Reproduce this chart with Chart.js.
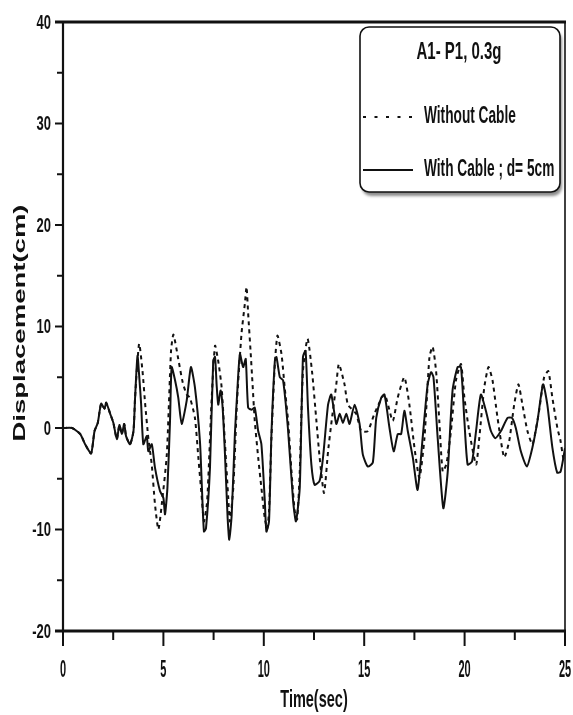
<!DOCTYPE html>
<html>
<head>
<meta charset="utf-8">
<script src="https://cdn.jsdelivr.net/npm/chart.js@4/dist/chart.umd.min.js"></script>
<style>
  html, body { margin: 0; padding: 0; background: #fff; }
  #wrap { width: 573px; height: 715px; position: relative; }
</style>
</head>
<body>
<div id="wrap"><canvas id="chart"></canvas></div>
<script>
// Response history, pier A1-P1 under 0.3g excitation
const legendTitle = 'A1- P1, 0.3g';
const seriesNames = ['Without Cable', 'With Cable ; d= 5cm'];

// Without cable (dashed)
const timeWithout = [0, 0.45, 0.86, 1.1, 1.4, 1.57, 1.73, 1.9, 2.07, 2.15, 2.35, 2.51, 2.68, 2.81, 2.93, 3.05, 3.14, 3.34, 3.51,
  3.59, 3.79, 3.96, 4.09, 4.25, 4.42, 4.58, 4.75, 4.92, 5.17, 5.38, 5.5, 5.74, 5.96, 6.16, 6.32, 6.57, 6.74, 6.9, 7.02, 7.18,
  7.4, 7.57, 7.73, 7.9, 8.06, 8.23, 8.31, 8.48, 8.67, 8.89, 9.06, 9.14, 9.22, 9.34, 9.44, 9.55, 9.72, 9.88, 10.05, 10.17,
  10.26, 10.38, 10.55, 10.68, 10.88, 11.04, 11.21, 11.38, 11.54, 11.66, 11.79, 11.95, 12.18, 12.4, 12.62, 12.78, 13.0, 13.2,
  13.36, 13.61, 13.74, 14.02, 14.19, 14.6, 14.85, 15.18, 15.51, 16.01, 16.42, 16.67, 17.0, 17.25, 17.5, 17.75, 18.0, 18.25,
  18.41, 18.58, 18.74, 18.91, 19.1, 19.32, 19.57, 19.82, 19.99, 20.23, 20.57, 20.73, 20.98, 21.19, 21.39, 21.64, 21.97, 22.22,
  22.47, 22.68, 22.88, 23.13, 23.38, 23.71, 23.96, 24.17, 24.37, 24.62, 24.78, 24.92, 25.0];
const dispWithout = [0, 0, -0.6, -1.6, -2.5, -0.3, 0.5, 2.4, 1.9, 2.5, 1.4, 0.5, -1.1, 0.3, -0.6, 0.4, -0.8, -1.6, -0.3,
  3.0, 8.3, 5.6, 2.4, -1.0, -3.6, -7.5, -10.0, -7.5, -2.6, 7.6, 9.2, 6.8, 4.5, 3.3, 3.0, 1.0, -2.9, -6.6, -9.2, -7.2,
  2.7, 8.1, 6.6, 4.0, -1.3, -6.9, -9.2, -5.9, 2.7, 9.3, 12.3, 13.9, 11.3, 7.6, 4.3, 0.7, -2.9, -5.9, -8.9, -9.9,
  -8.2, -1.0, 6.3, 9.1, 7.3, 4.0, 0.7, -4.3, -8.2, -9.0, -4.3, 5.6, 8.8, 5.6, 0.7, -2.9, -6.4, -2.3,
  0.4, 4.3, 6.3, 4.3, 2.3, 1.4, -0.3, -0.3, 1.4, 3.3, 0.7, 3.0, 5.0, 2.3, -1.9, -4.9, -1.0, 7.0,
  8.0, 5.6, 0.7, -4.3, -3.5, -0.3, 4.7, 6.3, 3.0, -0.3, -3.6, -1.0, 4.0, 6.0, 4.7, 1.0, -2.9, -1.3,
  2.3, 4.3, 2.3, -0.3, -1.6, 1.7, 5.0, 5.6, 3.0, 0, -1.3, -3.0, -2.5];

// With cable, d = 5 cm (solid)
const timeWith = [0, 0.45, 0.86, 1.1, 1.4, 1.57, 1.73, 1.9, 2.07, 2.15, 2.35, 2.51, 2.68, 2.81, 2.93, 3.05, 3.14, 3.34, 3.51,
  3.59, 3.71, 3.81, 3.89, 4.0, 4.17, 4.25, 4.42, 4.58, 4.83, 5.0, 5.08, 5.2, 5.33, 5.41, 5.58, 5.74, 5.91, 6.16, 6.37, 6.57,
  6.82, 6.92, 7.02, 7.12, 7.32, 7.48, 7.57, 7.65, 7.73, 7.85, 7.95, 8.06, 8.2, 8.28, 8.4, 8.56, 8.67, 8.81, 8.97, 9.1,
  9.22, 9.4, 9.55, 9.72, 9.88, 10.05, 10.13, 10.26, 10.38, 10.55, 10.63, 10.8, 10.96, 11.2, 11.46, 11.6, 11.79, 11.95, 12.08,
  12.2, 12.37, 12.53, 12.78, 12.95, 13.2, 13.36, 13.61, 13.78, 13.94, 14.11, 14.27, 14.52, 14.77, 14.93, 15.18, 15.43, 15.6,
  15.85, 16.01, 16.26, 16.47, 16.67, 16.84, 17.0, 17.17, 17.42, 17.66, 17.91, 18.16, 18.33, 18.45, 18.66, 18.94, 19.16, 19.4,
  19.65, 19.82, 19.99, 20.15, 20.37, 20.57, 20.81, 21.06, 21.31, 21.53, 21.81, 22.14, 22.36, 22.55, 22.8, 23.1, 23.38, 23.63,
  23.91, 24.12, 24.37, 24.61, 24.78, 25.0];
const dispWith = [0, 0, -0.6, -1.6, -2.5, -0.3, 0.5, 2.4, 1.9, 2.5, 1.4, 0.5, -1.1, 0.3, -0.6, 0.4, -0.8, -1.6, -0.3,
  3.0, 7.1, 4.7, 2.4, -1.6, -0.8, -2.3, -1.6, -3.9, -6.2, -6.9, -8.5, -5.9, 0.7, 6.0, 4.7, 3.0, 0.4, 2.7, 6.0, 4.0,
  -1.3, -6.0, -10.2, -9.9, -3.9, 6.6, 7.0, 4.3, 2.3, 3.7, 2.0, -2.3, -8.9, -11.0, -8.6, -0.6, 3.3, 7.3, 6.0, 6.8,
  2.0, 1.8, 2.0, -0.3, -1.6, -7.2, -10.2, -9.2, -0.6, 6.6, 7.0, 5.0, 4.7, 0, -7.2, -9.2, -5.9, 7.0, 7.6,
  2.0, -3.6, -5.6, -5.2, -2.9, 2.3, 3.3, 0.4, 1.4, 0.5, 1.4, 0.4, 2.3, 0.4, -2.6, -3.8, -3.4, 1.0,
  3.0, 3.3, 0, -2.3, -0.6, -0.6, 1.7, -0.3, -2.9, -6.1, -1.0, 4.3, 5.5, 5.0, -1.0, -7.9, -4.3, 3.7,
  6.0, 6.0, 0.7, -3.6, -3.3, -0.3, 3.3, 1.7, -0.3, -1.0, -0.3, 1.0, 1.0, 0, -2.3, -3.8, -1.9, 0.7,
  4.3, 2.3, -1.9, -4.4, -4.3, -2.0];

// Axis tick labels
const xTickValues = [0, 5, 10, 15, 20, 25];
const yTickValues = [-20, -10, 0, 10, 20, 30, 40];
const xTitle = 'Time(sec)';
const yTitle = 'Displacement(cm)';

const INK = '#111';
const FAMILY = '"Liberation Sans", Arial, Helvetica, sans-serif';

function toPoints(ts, vs) { return ts.map((t, i) => ({ x: t, y: vs[i] })); }

// Bold text drawn tall and narrow, as in the printed figure
function tallText(ctx, text, x, y, size, stretch, align, angle) {
  ctx.save();
  ctx.translate(x, y);
  if (angle) ctx.rotate(angle);
  if (angle) ctx.scale(stretch, 1); else ctx.scale(1, stretch);
  ctx.font = 'bold ' + size + 'px ' + FAMILY;
  ctx.fillStyle = INK;
  ctx.textAlign = align;
  ctx.textBaseline = 'middle';
  ctx.fillText(text, 0, 0);
  ctx.restore();
}

const framePlugin = {
  id: 'frame',
  afterDatasetsDraw(chart) {
    const { ctx, chartArea: a, scales: { x, y } } = chart;
    ctx.save();
    ctx.strokeStyle = INK;
    ctx.lineCap = 'butt';
    // frame
    ctx.lineWidth = 3;
    ctx.beginPath(); ctx.moveTo(a.left - 8, a.top); ctx.lineTo(a.right + 1, a.top); ctx.stroke();
    ctx.lineWidth = 1.6;
    ctx.beginPath(); ctx.moveTo(a.right, a.top); ctx.lineTo(a.right, a.bottom); ctx.stroke();
    ctx.lineWidth = 2.2;
    ctx.beginPath(); ctx.moveTo(a.left, a.top); ctx.lineTo(a.left, a.bottom + 1); ctx.stroke();
    ctx.lineWidth = 3;
    ctx.beginPath(); ctx.moveTo(a.left - 8, a.bottom); ctx.lineTo(a.right + 1, a.bottom); ctx.stroke();

    // tick marks: majors at labelled values, minors halfway between
    ctx.lineWidth = 2;
    x.ticks.forEach(t => {
      const px = x.getPixelForValue(t.value);
      const major = xTickValues.includes(t.value);
      ctx.beginPath(); ctx.moveTo(px, a.bottom); ctx.lineTo(px, a.bottom + (major ? 15 : 9)); ctx.stroke();
    });
    y.ticks.forEach(t => {
      const py = y.getPixelForValue(t.value);
      const major = yTickValues.includes(t.value);
      ctx.beginPath(); ctx.moveTo(a.left, py); ctx.lineTo(a.left - (major ? 8 : 6), py); ctx.stroke();
    });
    ctx.restore();

    // tick labels
    xTickValues.forEach(v => tallText(ctx, String(v), x.getPixelForValue(v), 671, 11, 2.1, 'center'));
    yTickValues.forEach(v => tallText(ctx, String(v), 51, y.getPixelForValue(v) + 1, 13, 1.6, 'right'));

    // axis titles
    tallText(ctx, xTitle, (a.left + a.right) / 2, 700, 14.5, 1.7, 'center');
    tallText(ctx, yTitle, 21, 323, 16, 1.72, 'center', -Math.PI / 2);
  }
};

const legendPlugin = {
  id: 'boxLegend',
  afterDraw(chart) {
    const { ctx } = chart;
    const bx = 360, by = 27, bw = 200, bh = 165, r = 9;
    ctx.save();
    ctx.shadowColor = 'rgba(0,0,0,0.45)';
    ctx.shadowOffsetX = 2;
    ctx.shadowOffsetY = 4;
    ctx.shadowBlur = 3;
    ctx.fillStyle = '#fff';
    ctx.beginPath();
    ctx.roundRect(bx, by, bw, bh, r);
    ctx.fill();
    ctx.shadowColor = 'transparent';
    ctx.lineWidth = 1.6;
    ctx.strokeStyle = INK;
    ctx.stroke();
    ctx.restore();

    tallText(ctx, legendTitle, 459, 53, 15, 1.56, 'center');

    const rows = [117, 170];
    chart.data.datasets.forEach((ds, i) => {
      const ly = rows[i];
      ctx.save();
      ctx.strokeStyle = ds.borderColor;
      ctx.lineWidth = 2.2;
      ctx.setLineDash(ds.borderDash && ds.borderDash.length ? [3, 8.5] : []);
      ctx.beginPath(); ctx.moveTo(363, ly); ctx.lineTo(413, ly); ctx.stroke();
      ctx.restore();
      tallText(ctx, ds.label, 424, ly, 13.7, 1.7, 'left');
    });
  }
};

new Chart(document.getElementById('chart'), {
  type: 'line',
  data: {
    datasets: [
      {
        label: seriesNames[0],
        data: toPoints(timeWithout, dispWithout),
        borderColor: INK,
        borderWidth: 2,
        borderDash: [4, 4],
        pointRadius: 0,
        tension: 0.2,
        fill: false
      },
      {
        label: seriesNames[1],
        data: toPoints(timeWith, dispWith),
        borderColor: INK,
        borderWidth: 2,
        pointRadius: 0,
        tension: 0.2,
        fill: false
      }
    ]
  },
  options: {
    responsive: true,
    maintainAspectRatio: false,
    animation: false,
    layout: { padding: { top: 22, right: 8, left: 0, bottom: 0 } },
    plugins: { legend: { display: false }, tooltip: { enabled: false } },
    scales: {
      x: {
        type: 'linear', min: 0, max: 25,
        ticks: { stepSize: 2.5, display: false },
        grid: { display: false },
        border: { display: false },
        afterFit(s) { s.height = 84; }
      },
      y: {
        type: 'linear', min: -20, max: 40,
        ticks: { stepSize: 5, display: false },
        grid: { display: false },
        border: { display: false },
        afterFit(s) { s.width = 63; }
      }
    }
  },
  plugins: [framePlugin, legendPlugin]
});
</script>
</body>
</html>
